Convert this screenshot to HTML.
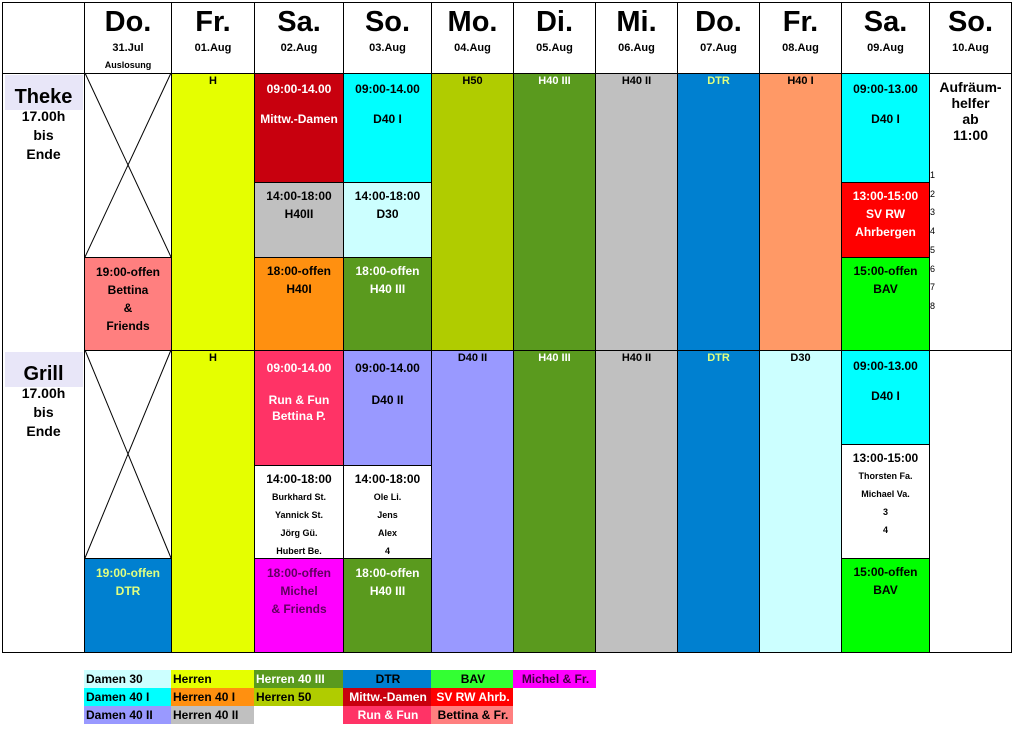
<!DOCTYPE html>
<html><head><meta charset="utf-8"><style>
body{margin:0;width:1014px;height:731px;background:#fff;position:relative;overflow:hidden;font-family:"Liberation Sans",Arial,sans-serif;font-weight:bold}
.c{position:absolute;box-sizing:border-box;border:1px solid #000;text-align:center;overflow:hidden}
.t{position:absolute;text-align:center}
.lg{position:absolute;height:18px;font-size:12px;line-height:18px;box-sizing:border-box;padding-left:2px}
</style></head><body>
<svg id="xs" width="1014" height="731" style="position:absolute;left:0;top:0;pointer-events:none;z-index:5"></svg>
<script>
const dayNames=["Do.","Fr.","Sa.","So.","Mo.","Di.","Mi.","Do.","Fr.","Sa.","So."];
const dates=["31.Jul","01.Aug","02.Aug","03.Aug","04.Aug","05.Aug","06.Aug","07.Aug","08.Aug","09.Aug","10.Aug"];
const colX=[2,84,171,254,343,431,513,595,677,759,841,929,1011];
// cells: col, y1, y2, bg, fg, lineHeight, padTop, fontSize, lines, name
const cells=[
[1,73,257,"#fff","#000",18,0,12,[],"theke-do-closed"],
[1,257,350,"#ff7f7f","#000",18,5,12,["19:00-offen","Bettina","&","Friends"],"theke-do-bettina"],
[2,73,350,"#e5ff00","#000",14,0,11,["H"],"theke-fr-h"],
[3,73,182,"#c8000e","#fff",15,8,12,["09:00-14.00","","Mittw.-Damen"],"theke-sa-mittw"],
[3,182,257,"#c0c0c0","#000",18,4,12,["14:00-18:00","H40II"],"theke-sa-h40ii"],
[3,257,350,"#ff9010","#000",18,4,12,["18:00-offen","H40I"],"theke-sa-h40i"],
[4,73,182,"#00ffff","#000",15,8,12,["09:00-14.00","","D40 I"],"theke-so-d40i"],
[4,182,257,"#ccffff","#000",18,4,12,["14:00-18:00","D30"],"theke-so-d30"],
[4,257,350,"#5a9a1e","#fff",18,4,12,["18:00-offen","H40 III"],"theke-so-h40iii"],
[5,73,350,"#b0cc00","#000",14,0,11,["H50"],"theke-mo-h50"],
[6,73,350,"#5a9a1e","#fff",14,0,11,["H40 III"],"theke-di-h40iii"],
[7,73,350,"#c0c0c0","#000",14,0,11,["H40 II"],"theke-mi-h40ii"],
[8,73,350,"#0080d0","#e0ff80",14,0,11,["DTR"],"theke-do-dtr"],
[9,73,350,"#ff9966","#000",14,0,11,["H40 I"],"theke-fr-h40i"],
[10,73,182,"#00ffff","#000",15,8,12,["09:00-13.00","","D40 I"],"theke-sa2-d40i"],
[10,182,257,"#ff0000","#fff",18,4,12,["13:00-15:00","SV RW","Ahrbergen"],"theke-sa2-svrw"],
[10,257,350,"#00ff00","#000",18,4,12,["15:00-offen","BAV"],"theke-sa2-bav"],
[11,73,350,"#fff","#000",16,5,14,["Aufräum-","helfer","ab","11:00"],"theke-so-aufraeum"],
[1,350,558,"#fff","#000",18,0,12,[],"grill-do-closed"],
[1,558,652,"#0080d0","#e0ff80",18,5,12,["19:00-offen","DTR"],"grill-do-dtr"],
[2,350,652,"#e5ff00","#000",14,0,11,["H"],"grill-fr-h"],
[3,350,465,"#ff3366","#fff",16,9,12,["09:00-14.00","","Run & Fun","Bettina P."],"grill-sa-runfun"],
[4,350,465,"#9999ff","#000",16,9,12,["09:00-14.00","","D40 II"],"grill-so-d40ii"],
[3,465,558,"#fff","#000",18,4,12,["14:00-18:00"],"grill-sa-helpers"],
[4,465,558,"#fff","#000",18,4,12,["14:00-18:00"],"grill-so-helpers"],
[3,558,652,"#ff00ff","#600060",18,5,12,["18:00-offen","Michel","& Friends"],"grill-sa-michel"],
[4,558,652,"#5a9a1e","#fff",18,5,12,["18:00-offen","H40 III"],"grill-so-h40iii"],
[5,350,652,"#9999ff","#000",14,0,11,["D40 II"],"grill-mo-d40ii"],
[6,350,652,"#5a9a1e","#fff",14,0,11,["H40 III"],"grill-di-h40iii"],
[7,350,652,"#c0c0c0","#000",14,0,11,["H40 II"],"grill-mi-h40ii"],
[8,350,652,"#0080d0","#e0ff80",14,0,11,["DTR"],"grill-do-dtr"],
[9,350,652,"#ccffff","#000",14,0,11,["D30"],"grill-fr-d30"],
[10,350,444,"#00ffff","#000",15,8,12,["09:00-13.00","","D40 I"],"grill-sa2-d40i"],
[10,444,558,"#fff","#000",18,4,12,["13:00-15:00"],"grill-sa2-helpers"],
[10,558,652,"#00ff00","#000",18,4,12,["15:00-offen","BAV"],"grill-sa2-bav"],
[11,350,652,"#fff","#000",18,0,12,[],"grill-so-empty"]
];
const helperNames=[[3,488,["Burkhard St.","Yannick St.","Jörg Gü.","Hubert Be."]],[4,488,["Ole Li.","Jens","Alex","4"]],[10,467,["Thorsten Fa.","Michael Va.","3","4"]]];
const legendItems=[
["Damen 30","#ccffff","#000",1,0,"left"],["Herren","#e5ff00","#000",2,0,"left"],["Herren 40 III","#5a9a1e","#fff",3,0,"left"],["DTR","#0080d0","#000",4,0,"center"],["BAV","#33ff33","#000",5,0,"center"],["Michel & Fr.","#ff00ff","#400040",6,0,"center"],
["Damen 40 I","#00ffff","#000",1,1,"left"],["Herren 40 I","#ff9010","#000",2,1,"left"],["Herren 50","#b0cc00","#000",3,1,"left"],["Mittw.-Damen","#c8000e","#fff",4,1,"center"],["SV RW Ahrb.","#ff0000","#fff",5,1,"center"],
["Damen 40 II","#9999ff","#000",1,2,"left"],["Herren 40 II","#c0c0c0","#000",2,2,"left"],["Run & Fun","#ff3366","#fff",4,2,"center"],["Bettina & Fr.","#ff7f7f","#000",5,2,"center"]
];
const legX=[0,84,171,254,343,431,513,596];
function el(cls,css,html){const d=document.createElement('div');d.className=cls;d.style.cssText=css;if(html!==undefined)d.innerHTML=html;document.body.appendChild(d);return d;}
let f=el('c','left:2px;top:2px;width:1010px;height:651px;border:1px solid #000;background:#fff');


let hc=el('c','left:2px;top:2px;width:83px;height:72px');


for(let i=0;i<11;i++){
 const x=colX[i+1],w=colX[i+2]-x+1;
 let h=el('c',`left:${x}px;top:2px;width:${w}px;height:72px;background:#fff`,`<div style="font-size:29px;line-height:30px;margin-top:4px">${dayNames[i]}</div><div style="font-size:11px;line-height:14px;margin-top:4px">${dates[i]}</div>`+(i==0?'<div style="font-size:9px;margin-top:5px">Auslosung</div>':''));
 
 
}
for(const c of cells){
 const x=colX[c[0]],w=colX[c[0]+1]-x+1;
 let inner=c[8].map(s=>`<div style="height:${c[5]}px;line-height:${c[5]}px">${s}</div>`).join('');
 let d=el('c',`left:${x}px;top:${c[1]}px;width:${w}px;height:${c[2]-c[1]+1}px;background:${c[3]};color:${c[4]};font-size:${c[7]}px;padding-top:${c[6]}px`,inner);
 
 
}
for(const hn of helperNames){
 const x=colX[hn[0]],w=colX[hn[0]+1]-x+1;
 let d=el('t',`left:${x}px;top:${hn[1]}px;width:${w}px;font-size:9px;line-height:18px`,hn[2].map(s=>`<div>${s}</div>`).join(''));
 
 
}
const svg=document.getElementById('xs');
for(const [y1,y2] of [[73,257],[350,558]]){
 for(const [a,b] of [[[85,y1],[171,y2]],[[171,y1],[85,y2]]]){
  const l=document.createElementNS('http://www.w3.org/2000/svg','line');
  l.setAttribute('x1',a[0]);l.setAttribute('y1',a[1]);l.setAttribute('x2',b[0]);l.setAttribute('y2',b[1]);l.setAttribute('stroke','#000');l.setAttribute('stroke-width','1');
  
  
  svg.appendChild(l);
 }
}
for(const [y,t] of [[75,"Theke"],[352,"Grill"]]){
 let b=el('t',`left:5px;top:${y}px;width:78px;height:35px;background:#e8e6f8`,'');
 
 
 let d=el('t',`left:2px;top:${y+10}px;width:83px;font-size:20px;line-height:24px`,`<div>${t}</div><div style="font-size:14px;line-height:19px;margin-top:-2px">17.00h</div><div style="font-size:14px;line-height:19px">bis</div><div style="font-size:14px;line-height:19px">Ende</div>`);
 
 
}
for(let i=1;i<=8;i++){
 let n=el('t',`left:930px;top:${170+(i-1)*18.7}px;font-size:9px;font-weight:normal;text-align:left`,String(i));
 
 
}
for(const it of legendItems){
 const x=legX[it[3]],w=legX[it[3]+1]-x;
 let d=el('lg',`left:${x}px;top:${670+it[4]*18}px;width:${w}px;background:${it[1]};color:${it[2]};text-align:${it[5]}`,it[0]);
 
 
}
</script>
</body></html>
